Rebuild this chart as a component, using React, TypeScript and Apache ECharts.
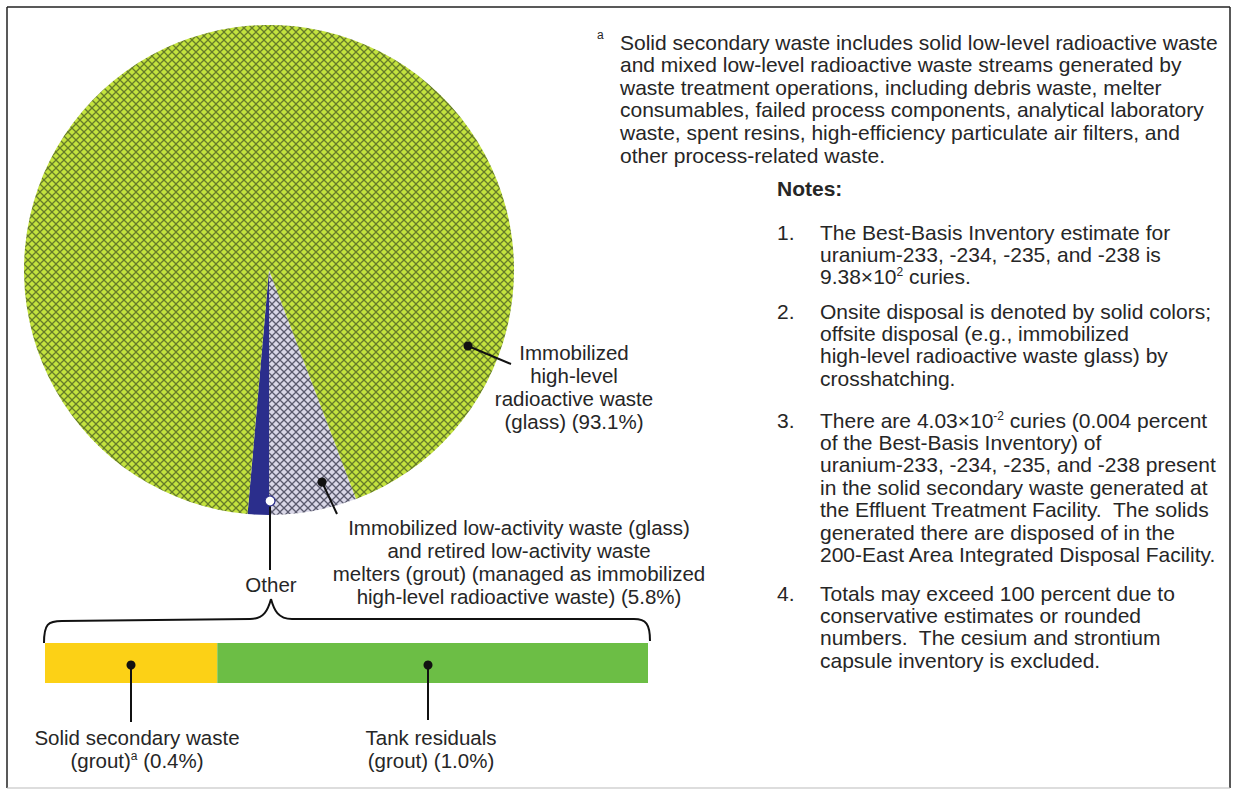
import React, { useEffect, useRef } from "react";
import * as echarts from "echarts";

// ---------- DATA ----------
const pieNames = [
  "Immobilized high-level radioactive waste (glass)",
  "Immobilized low-activity waste (glass) and retired low-activity waste melters (grout)",
];
const pieValues = [93.1, 5.8];
const otherNames = ["Solid secondary waste (grout)", "Tank residuals (grout)"];
const otherValues = [0.4, 1.0];

const glassLabel = ["Immobilized", "high-level", "radioactive waste", "(glass) (93.1%)"];
const lawLabel = [
  "Immobilized low-activity waste (glass)",
  "and retired low-activity waste",
  "melters (grout) (managed as immobilized",
  "high-level radioactive waste) (5.8%)",
];
const solidLabel = ["Solid secondary waste", "(grout){sup|a} (0.4%)"];
const tankLabel = ["Tank residuals", "(grout) (1.0%)"];

const footnoteLines = [
  "Solid secondary waste includes solid low-level radioactive waste",
  "and mixed low-level radioactive waste streams generated by",
  "waste treatment operations, including debris waste, melter",
  "consumables, failed process components, analytical laboratory",
  "waste, spent resins, high-efficiency particulate air filters, and",
  "other process-related waste.",
];
const notes = [
  {
    num: "1.",
    lines: [
      "The Best-Basis Inventory estimate for",
      "uranium-233, -234, -235, and -238 is",
      "9.38×10{sup|2} curies.",
    ],
  },
  {
    num: "2.",
    lines: [
      "Onsite disposal is denoted by solid colors;",
      "offsite disposal (e.g., immobilized",
      "high-level radioactive waste glass) by",
      "crosshatching.",
    ],
  },
  {
    num: "3.",
    lines: [
      "There are 4.03×10{sup|-2} curies (0.004 percent",
      "of the Best-Basis Inventory) of",
      "uranium-233, -234, -235, and -238 present",
      "in the solid secondary waste generated at",
      "the Effluent Treatment Facility.  The solids",
      "generated there are disposed of in the",
      "200-East Area Integrated Disposal Facility.",
    ],
  },
  {
    num: "4.",
    lines: [
      "Totals may exceed 100 percent due to",
      "conservative estimates or rounded",
      "numbers.  The cesium and strontium",
      "capsule inventory is excluded.",
    ],
  },
];

// ---------- STYLE ----------
const FONT = '"Liberation Sans", Arial, Helvetica, sans-serif';
const FS = 20.5;
const FS_RIGHT = 21;
const INK = "#262626";

function makeHatch(bg: string, fg: string, s: number, lw: number) {
  const c = document.createElement("canvas");
  c.width = s;
  c.height = s;
  const g = c.getContext("2d")!;
  g.fillStyle = bg;
  g.fillRect(0, 0, s, s);
  g.strokeStyle = fg;
  g.lineWidth = lw;
  for (const o of [-s, 0, s]) {
    g.beginPath();
    g.moveTo(o, 0);
    g.lineTo(o + s, s);
    g.stroke();
    g.beginPath();
    g.moveTo(o, s);
    g.lineTo(o + s, 0);
    g.stroke();
  }
  return c;
}

const RICH = {
  sup: { fontFamily: FONT, fontSize: 12, fill: INK, color: INK, verticalAlign: "top" },
};

function txt(x: number, y: number, text: string, align = "left", bold = false, size = FS): any {
  return {
    type: "text",
    x,
    y,
    z: 100,
    silent: true,
    style: {
      text,
      fontFamily: FONT,
      fontSize: size,
      fontWeight: bold ? "bold" : "normal",
      fill: INK,
      textAlign: align,
      textVerticalAlign: "middle",
      rich: RICH,
    },
  };
}

function block(x: number, y0: number, lh: number, lines: string[], align = "left", size = FS): any[] {
  return lines.map((l, i) => txt(x, y0 + i * lh, l, align, false, size));
}

function dot(x: number, y: number, r = 4.5, fill = "#111", stroke?: string): any {
  return {
    type: "circle",
    z: 101,
    silent: true,
    shape: { cx: x, cy: y, r },
    style: { fill, stroke: stroke || null, lineWidth: 1.2 },
  };
}

function seg(x1: number, y1: number, x2: number, y2: number, w = 2, c = "#111"): any {
  return { type: "line", z: 100, silent: true, shape: { x1, y1, x2, y2 }, style: { stroke: c, lineWidth: w } };
}

function curve(x1: number, y1: number, cpx1: number, cpy1: number, cpx2: number, cpy2: number, x2: number, y2: number): any {
  return {
    type: "bezierCurve",
    z: 100,
    silent: true,
    shape: { x1, y1, cpx1, cpy1, cpx2, cpy2, x2, y2 },
    style: { stroke: "#111", lineWidth: 2, fill: null },
  };
}

export default function App() {
  const ref = useRef<HTMLDivElement>(null);

  useEffect(() => {
    const chart = echarts.init(ref.current!, null, { renderer: "svg" });

    const otherTotal = otherValues.reduce((a, b) => a + b, 0);
    const total = pieValues[0] + pieValues[1] + otherTotal;
    const lawFrac = pieValues[1] / total;
    // low-activity slice ends pointing straight down, then "Other", then glass
    const startAngle = lawFrac * 360 - 90;

    const green = makeHatch("#c3e23e", "#667c2a", 8, 1.25);
    const gray = makeHatch("#d9d7e7", "#5a5a6e", 8, 1.25);

    const graphics: any[] = [];
    // frame
    graphics.push(seg(7, 7, 1230, 7, 1.5, "#222"));
    graphics.push(seg(7, 7, 7, 788, 1.5, "#222"));
    graphics.push(seg(1230, 7, 1230, 788, 1.5, "#222"));
    graphics.push(seg(7, 788, 1230, 788, 1.2, "#bbbbbb"));

    // footnote
    graphics.push(txt(597, 35, "a", "left", false, 12));
    graphics.push(...block(620, 42, 22.6, footnoteLines, "left", FS_RIGHT));

    // notes
    graphics.push(txt(777, 188, "Notes:", "left", true, FS_RIGHT));
    const noteStarts = [232, 311, 420, 593];
    notes.forEach((n, i) => {
      graphics.push(txt(777, noteStarts[i], n.num, "left", false, FS_RIGHT));
      graphics.push(...block(820, noteStarts[i], 22.4, n.lines, "left", FS_RIGHT));
    });

    // pie annotations
    graphics.push(dot(468, 346));
    graphics.push(seg(468, 346, 511, 364));
    graphics.push(...block(574, 352, 23, glassLabel, "center"));

    graphics.push(dot(322, 482));
    graphics.push(seg(322, 482, 337, 514));
    graphics.push(...block(519, 527, 23.3, lawLabel, "center"));

    graphics.push(seg(270, 501, 270, 570));
    graphics.push(dot(270, 501, 5, "#ffffff", "#2b2e8c"));
    graphics.push(txt(271, 584, "Other", "center"));

    // brace
    graphics.push(curve(44, 643, 44, 624, 48, 621, 62, 621));
    graphics.push(seg(62, 621, 250, 619));
    graphics.push(curve(250, 619, 264, 619, 268, 610, 271, 599));
    graphics.push(curve(271, 599, 274, 610, 278, 619, 292, 619));
    graphics.push(seg(292, 619, 634, 619));
    graphics.push(curve(634, 619, 646, 619, 650, 624, 650, 641));

    // bar annotations
    graphics.push(dot(131, 665));
    graphics.push(seg(131, 665, 131, 722));
    graphics.push(...block(137, 737, 23, solidLabel, "center"));
    graphics.push(dot(428, 665));
    graphics.push(seg(428, 665, 428, 720));
    graphics.push(...block(431, 737, 23, tankLabel, "center"));

    const option: any = {
      animation: false,
      backgroundColor: "#ffffff",
      grid: { left: 45, top: 643, width: 603, height: 40 },
      xAxis: { type: "value", min: 0, max: otherTotal, show: false },
      yAxis: { type: "category", data: ["Other"], show: false },
      series: [
        {
          type: "pie",
          center: [269, 270],
          radius: 245,
          startAngle,
          clockwise: true,
          silent: true,
          z: 2,
          label: { show: false },
          labelLine: { show: false },
          emphasis: { disabled: true },
          itemStyle: { borderWidth: 0 },
          data: [
            {
              name: pieNames[1],
              value: pieValues[1],
              itemStyle: { color: { image: gray, repeat: "repeat", imageWidth: 8, imageHeight: 8 } },
            },
            { name: "Other", value: otherTotal, itemStyle: { color: "#2b2e8c" } },
            {
              name: pieNames[0],
              value: pieValues[0],
              itemStyle: { color: { image: green, repeat: "repeat", imageWidth: 8, imageHeight: 8 } },
            },
          ],
        },
        {
          type: "bar",
          name: otherNames[0],
          stack: "other",
          barWidth: 40,
          silent: true,
          z: 2,
          itemStyle: { color: "#fcd116" },
          data: [otherValues[0]],
        },
        {
          type: "bar",
          name: otherNames[1],
          stack: "other",
          barWidth: 40,
          silent: true,
          z: 2,
          itemStyle: { color: "#6cbe45" },
          data: [otherValues[1]],
        },
      ],
      graphic: { elements: graphics },
    };

    chart.setOption(option);
    return () => chart.dispose();
  }, []);

  return (
    <div
      ref={ref}
      style={{ position: "fixed", left: 0, top: 0, width: 1233, height: 791, background: "#fff" }}
    />
  );
}
